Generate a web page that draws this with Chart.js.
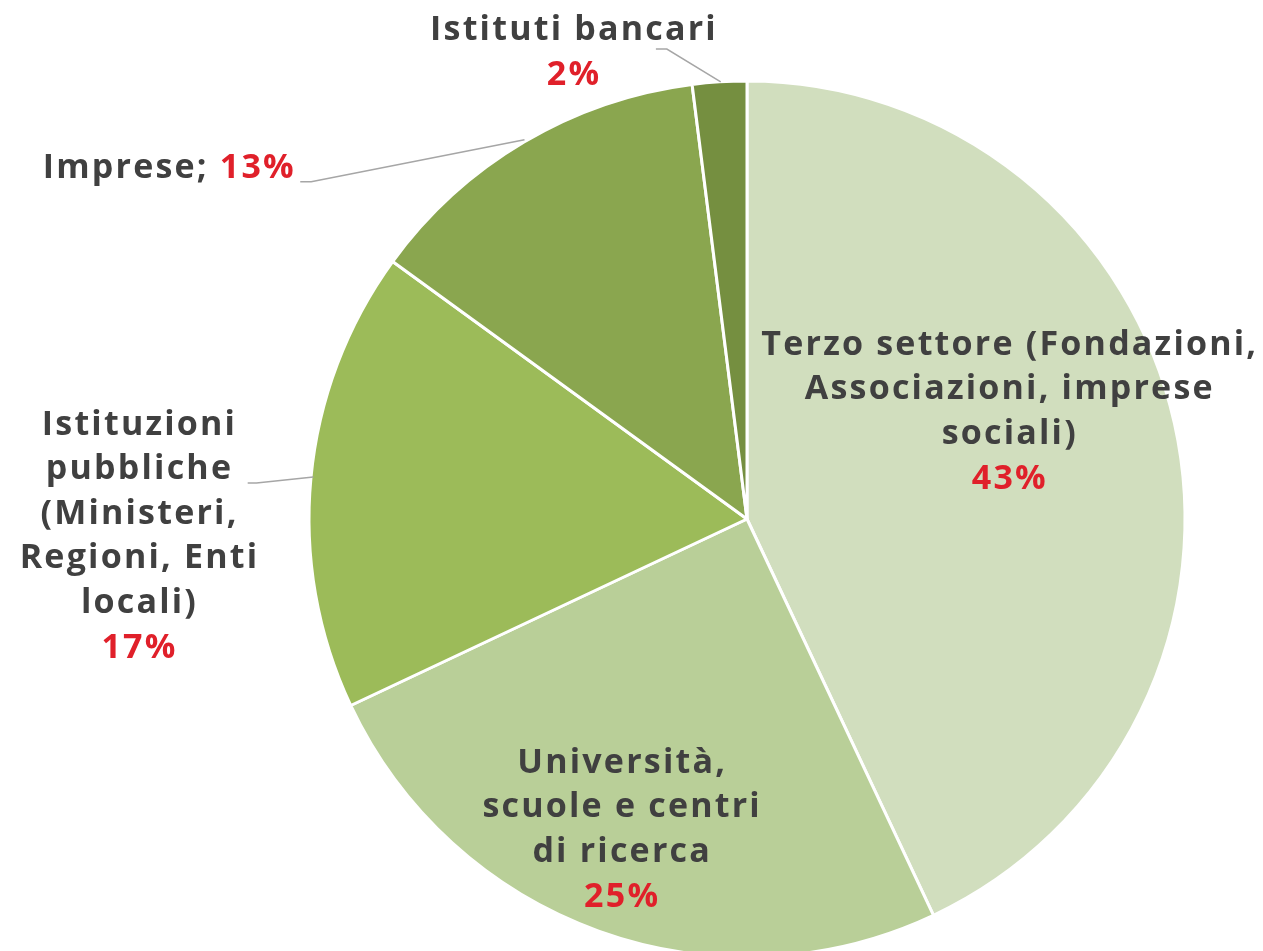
<!DOCTYPE html>
<html>
<head>
<meta charset="utf-8">
<script src="https://cdn.jsdelivr.net/npm/chart.js@4.4.1/dist/chart.umd.min.js"></script>
<style>
  html, body { margin: 0; padding: 0; background: #fff; }
  #wrap { width: 1263px; height: 951px; }
</style>
</head>
<body>
<div id="wrap"><canvas id="pie"></canvas></div>
<script>
// data
const categories = [
  "Terzo settore (Fondazioni, Associazioni, imprese sociali)",
  "Università, scuole e centri di ricerca",
  "Istituzioni pubbliche (Ministeri, Regioni, Enti locali)",
  "Imprese",
  "Istituti bancari"
];
const shares = [43, 25, 17, 13, 2];
const sliceColors = ["#d1debe", "#b9cf98", "#9cbb59", "#8aa64f", "#758f40"];

// label text as shown on the chart (lines)
const labelLines = [
  ["Terzo settore (Fondazioni,", "Associazioni, imprese", "sociali)"],
  ["Università,", "scuole e centri", "di ricerca"],
  ["Istituzioni", "pubbliche", "(Ministeri,", "Regioni, Enti", "locali)"],
  ["Imprese;"],
  ["Istituti bancari"]
];

const FONT = "bold 34px 'Open Sans'";
const DARK = "#404040";
const RED = "#e0202a";

// label placement, in units of the pie radius, relative to its centre
const labelPlace = [
  { x: 0.60, y: -0.397, align: "center" },
  { x: -0.285, y: 0.557, align: "center" },
  { x: -1.387, y: -0.215, align: "center" },
  { x: -1.03, y: -0.80, align: "right", inline: true },
  { x: -0.395, y: -1.116, align: "center" }
];
// leader lines (radius units)
const leaders = {
  2: [[-1.14, -0.082], [-1.12, -0.082], [-0.99, -0.096]],
  3: [[-1.02, -0.77], [-0.995, -0.77], [-0.508, -0.866]],
  4: [[-0.208, -1.073], [-0.183, -1.073], [-0.06, -0.998]]
};

const labelPlugin = {
  id: "pieLabels",
  afterDatasetsDraw(chart) {
    const ctx = chart.ctx;
    const arc = chart.getDatasetMeta(0).data[0];
    const cx = arc.x, cy = arc.y, r = arc.outerRadius;
    const lh = 44.5;
    ctx.save();
    // leader lines
    ctx.strokeStyle = "#a6a6a6";
    ctx.lineWidth = 1.5;
    Object.values(leaders).forEach(pts => {
      ctx.beginPath();
      pts.forEach((p, i) => {
        const px = cx + p[0] * r, py = cy + p[1] * r;
        if (i === 0) ctx.moveTo(px, py); else ctx.lineTo(px, py);
      });
      ctx.stroke();
    });
    ctx.font = FONT;
    ctx.letterSpacing = "2.2px";
    ctx.textBaseline = "middle";
    labelLines.forEach((lines, i) => {
      const pl = labelPlace[i];
      const x = cx + pl.x * r;
      let y = cy + pl.y * r;
      const pct = shares[i] + "%";
      if (pl.inline) {
        const a = lines[0] + " ";
        const wa = ctx.measureText(a).width;
        const wp = ctx.measureText(pct).width;
        ctx.textAlign = "left";
        ctx.fillStyle = DARK;
        ctx.fillText(a, x - wa - wp, y);
        ctx.fillStyle = RED;
        ctx.fillText(pct, x - wp, y);
        return;
      }
      ctx.textAlign = pl.align;
      ctx.fillStyle = DARK;
      lines.forEach(t => { ctx.fillText(t, x, y); y += lh; });
      ctx.fillStyle = RED;
      ctx.fillText(pct, x, y + 1);
    });
    ctx.restore();
  }
};

new Chart(document.getElementById("pie"), {
  type: "pie",
  data: {
    labels: categories,
    datasets: [{
      data: shares,
      backgroundColor: sliceColors,
      borderColor: "#ffffff",
      borderWidth: 3,
      radius: 438
    }]
  },
  options: {
    responsive: true,
    maintainAspectRatio: false,
    animation: false,
    layout: { padding: { left: 231, right: 0, top: 87, bottom: 0 } },
    plugins: {
      legend: { display: false },
      tooltip: { enabled: false }
    }
  },
  plugins: [labelPlugin]
});
</script>
</body>
</html>
